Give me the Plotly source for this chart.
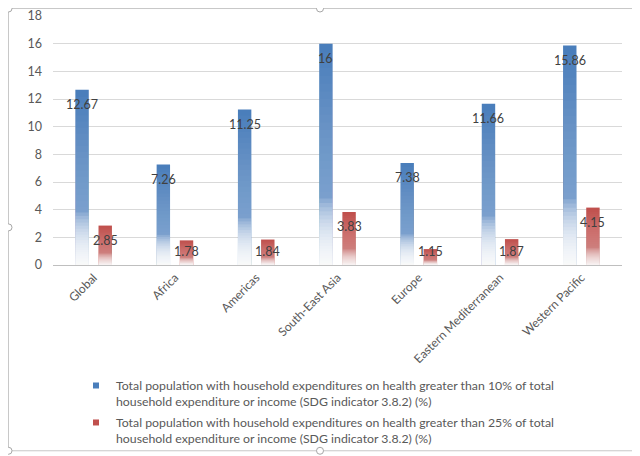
import plotly.graph_objects as go

# data
regions = ["Global", "Africa", "Americas", "South-East Asia", "Europe",
           "Eastern Mediterranean", "Western Pacific"]
over_10 = [12.67, 7.26, 11.25, 16, 7.38, 11.66, 15.86]
over_25 = [2.85, 1.78, 1.84, 3.83, 1.15, 1.87, 4.15]

name_10 = ("Total population with household expenditures on health greater than 10% of total<br>"
           "household expenditure or income (SDG indicator 3.8.2) (%)")
name_25 = ("Total population with household expenditures on health greater than 25% of total<br>"
           "household expenditure or income (SDG indicator 3.8.2) (%)")

BLUE = "#4A7EBB"
RED = "#C0504D"
FONT = "Lato, Liberation Sans, Arial"

W = 0.165
# (values, colour, legend name, bar offset, label x-shift in px, fade strength)
series = [(over_10, BLUE, name_10, -0.225, -11.6, 0.14),
          (over_25, RED, name_25, 0.06, 11.6, 0.10)]

fig = go.Figure()

for vals, col, name, off, _, fade in series:
    # base bar
    fig.add_trace(go.Bar(x=regions, y=vals, marker=dict(color=col, line_width=0),
                         width=W, offset=off, showlegend=False, hoverinfo="skip"))
    # soft lightening from top towards the middle
    for k in range(20):
        f = 0.96 - 0.035 * k
        fig.add_trace(go.Bar(x=regions, y=[v * f for v in vals], width=W, offset=off,
                             marker=dict(color="white", opacity=0.02, line_width=0),
                             showlegend=False, hoverinfo="skip"))
    # fade to white at the bottom (layers packed towards the base)
    for k in range(1, 25):
        f = 0.30 * (k / 24) ** 1.6
        fig.add_trace(go.Bar(x=regions, y=[v * f for v in vals], width=W, offset=off,
                             marker=dict(color="white", opacity=fade, line_width=0),
                             showlegend=False, hoverinfo="skip"))

# legend entries with small square keys
for i, (vals, col, name, off, _, _) in enumerate(series):
    fig.add_trace(go.Scatter(x=[None], y=[None], mode="markers", name=name,
                             legendgroup=f"g{i}",
                             marker=dict(symbol="square", size=6, color=col)))

# data labels, "inside end" like excel (kept off the axis for short bars)
annotations = []
for vals, col, name, off, shift, _ in series:
    for r, v in zip(regions, vals):
        annotations.append(dict(x=r, y=max(v - 1.08, 1.0), text=f"{v:g}", showarrow=False,
                                xshift=shift, xanchor="center", yanchor="middle",
                                font=dict(family=FONT, size=12.5, color="#404040")))

# chart border and handles (page body has an 8px margin, coords below are screen px)
def px(x):
    return (x - 53) / 569

def py(y):
    return (265.7 - y) / 249.7

shapes = [dict(type="rect", xref="paper", yref="paper", x0=px(8.5), x1=px(637), y0=py(8.5), y1=py(452),
               line=dict(color="#C8C8C8", width=1), layer="below")]
for hx, hy in [(8.5, 8.5), (320, 8.5), (637, 8.5), (8.5, 228), (637, 228), (8.5, 452), (320, 452), (637, 452)]:
    shapes.append(dict(type="circle", xref="paper", yref="paper",
                       x0=px(hx - 3.5), x1=px(hx + 3.5), y0=py(hy - 3.5), y1=py(hy + 3.5),
                       line=dict(color="#A6A6A6", width=1), fillcolor="white"))

fig.update_layout(
    width=632, height=448,
    barmode="overlay",
    paper_bgcolor="white", plot_bgcolor="white",
    margin=dict(l=45, r=18, t=8, b=191, autoexpand=False),
    font=dict(family=FONT, size=12, color="#595959"),
    shapes=shapes,
    annotations=annotations,
    legend=dict(x=px(76), y=py(372), xanchor="left", yanchor="top", valign="top",
                font=dict(family=FONT, size=12.3, color="#595959"),
                itemwidth=30, tracegroupgap=2, bgcolor="rgba(0,0,0,0)"),
    xaxis=dict(tickangle=-45, showline=True, linecolor="#BFBFBF", ticks="",
               automargin=False, tickfont=dict(size=12, color="#595959")),
    yaxis=dict(range=[0, 18], dtick=2, gridcolor="#D9D9D9", zeroline=False,
               automargin=False, tickfont=dict(size=12.5, color="#595959"), ticks="",
               ticklabelstandoff=10),
)

fig.write_html("out.html")
